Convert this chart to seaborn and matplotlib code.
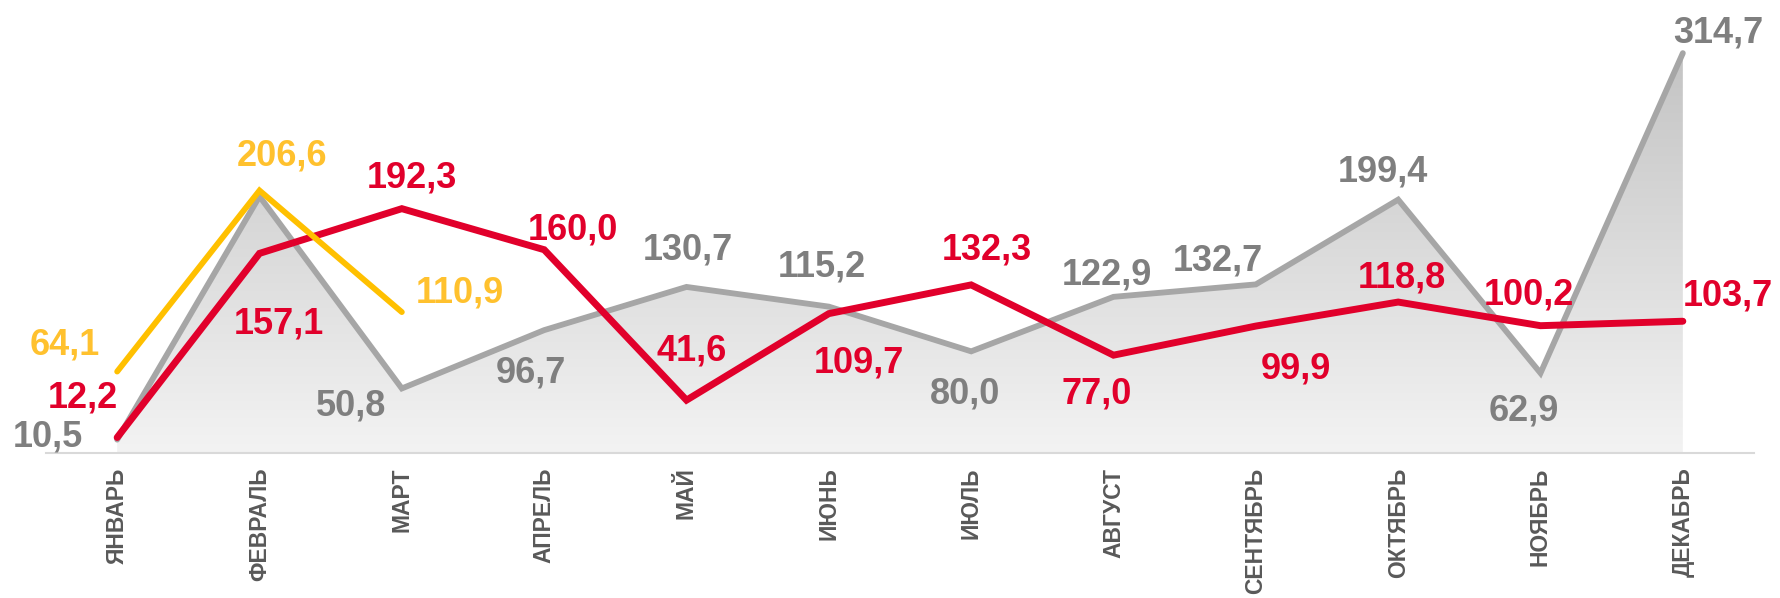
import numpy as np
import pandas as pd
import matplotlib
matplotlib.use("Agg")
import matplotlib.pyplot as plt
import seaborn as sns
from matplotlib.colors import LinearSegmentedColormap
from matplotlib.patches import PathPatch

# ---------------- data ----------------
months = ["ЯНВАРЬ", "ФЕВРАЛЬ", "МАРТ", "АПРЕЛЬ", "МАЙ", "ИЮНЬ",
          "ИЮЛЬ", "АВГУСТ", "СЕНТЯБРЬ", "ОКТЯБРЬ", "НОЯБРЬ", "ДЕКАБРЬ"]
gray_values = [10.5, 202.0, 50.8, 96.7, 130.7, 115.2, 80.0, 122.9, 132.7, 199.4, 62.9, 314.7]
gray_labels = ["10,5", "", "50,8", "96,7", "130,7", "115,2", "80,0", "122,9", "132,7", "199,4", "62,9", "314,7"]
red_values = [12.2, 157.1, 192.3, 160.0, 41.6, 109.7, 132.3, 77.0, 99.9, 118.8, 100.2, 103.7]
red_labels = ["12,2", "157,1", "192,3", "160,0", "41,6", "109,7", "132,3", "77,0", "99,9", "118,8", "100,2", "103,7"]
yellow_values = [64.1, 206.6, 110.9]
yellow_labels = ["64,1", "206,6", "110,9"]

# label placement (pixel offsets of text baseline-centre from the point; +y = up)
gray_offsets = [(-69, -7), (0, 0), (-51, -27), (-13, -52), (1, 27), (-7, 30),
                (-6, -52), (-7, 12), (-38, 14), (-15, 18), (-17, -47), (35, 11)]
red_offsets = [(-34, 30), (19, -80), (10, 21), (29, 10), (5, 40), (30, -59),
               (16, 25), (-17, -48), (40, -52), (4, 15), (-12, 21), (45, 16)]
yellow_offsets = [(-52, 17), (23, 25), (58, 10)]

GRAY_LINE = "#A6A6A6"
GRAY_TEXT = "#7F7F7F"
RED = "#E1002B"
YELLOW = "#FFC000"
TICK = "#595959"

sns.set_theme(style="white")
plt.rcParams["font.family"] = ["Liberation Sans", "DejaVu Sans"]

W, H = 1780, 598
fig = plt.figure(figsize=(W / 100, H / 100), dpi=100)
ax = fig.add_axes([46 / W, 1 - 453 / H, 1708 / W, (453 - 21) / H])

x_all = np.arange(len(months))
df_gray = pd.DataFrame({"x": x_all, "y": gray_values})
df_red = pd.DataFrame({"x": x_all, "y": red_values})
df_yel = pd.DataFrame({"x": x_all[:len(yellow_values)], "y": yellow_values})

# gradient area under the gray series
poly = ax.fill_between(df_gray["x"], df_gray["y"], 0, color="none", lw=0)
path = poly.get_paths()[0]
patch = PathPatch(path, transform=ax.transData, facecolor="none", edgecolor="none")
ax.add_patch(patch)
cmap = LinearSegmentedColormap.from_list("g", ["#F3F3F3", "#C4C4C4"])
grad = np.linspace(0, 1, 256).reshape(-1, 1)
im = ax.imshow(grad, extent=[0, len(months) - 1, 0, max(gray_values)], origin="lower",
               aspect="auto", cmap=cmap, zorder=1, interpolation="bicubic")
im.set_clip_path(patch)

line_kw = dict(solid_capstyle="round", solid_joinstyle="miter")
sns.lineplot(data=df_gray, x="x", y="y", color=GRAY_LINE, linewidth=4.2, ax=ax, zorder=2, **line_kw)
sns.lineplot(data=df_red, x="x", y="y", color=RED, linewidth=5.0, ax=ax, zorder=3, **line_kw)
sns.lineplot(data=df_yel, x="x", y="y", color=YELLOW, linewidth=4.2, ax=ax, zorder=4, **line_kw)

ax.set_xlim(-0.5, len(months) - 0.5)
ax.set_ylim(0, 340)

PX2PT = 0.72
def put_labels(xs, ys, labels, offsets, color):
    for xi, yi, lab, (dx, dy) in zip(xs, ys, labels, offsets):
        if not lab:
            continue
        ax.annotate(lab, (xi, yi), xytext=(dx * PX2PT, dy * PX2PT), textcoords="offset points",
                    ha="center", va="baseline", fontsize=26, fontweight="bold",
                    color=color, zorder=6, annotation_clip=False)

put_labels(x_all, gray_values, gray_labels, gray_offsets, GRAY_TEXT)
put_labels(x_all, red_values, red_labels, red_offsets, RED)
put_labels(x_all[:len(yellow_values)], yellow_values, yellow_labels, yellow_offsets, "#FFC12E")

ax.set_xticks(x_all)
ax.set_xticklabels(months, rotation=90, fontsize=16.5, fontweight="bold", color=TICK)
ax.tick_params(axis="x", length=0, pad=10.5)
ax.set_yticks([])
ax.set_xlabel("")
ax.set_ylabel("")
for s in ["top", "left", "right"]:
    ax.spines[s].set_visible(False)
ax.spines["bottom"].set_color("#D9D9D9")
ax.spines["bottom"].set_linewidth(1.5)
ax.set_facecolor("none")
ax.grid(False)

fig.savefig("out.png", dpi=100)
